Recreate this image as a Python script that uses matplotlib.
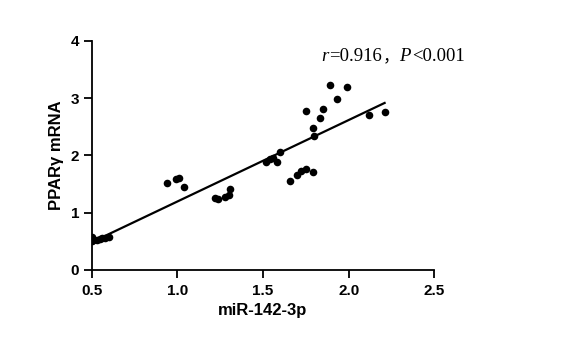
import numpy as np
import matplotlib
matplotlib.use("Agg")
import matplotlib.pyplot as plt
from matplotlib.offsetbox import TextArea, HPacker, AnnotationBbox

# data
mir_142_3p = [0.50, 0.50, 0.51, 0.53, 0.55, 0.56, 0.58, 0.60,
              0.94, 0.99, 1.01, 1.04,
              1.22, 1.24, 1.28, 1.30, 1.31,
              1.52, 1.54, 1.56, 1.58, 1.60,
              1.66, 1.70, 1.72, 1.75, 1.79,
              1.75, 1.79, 1.80, 1.83, 1.85, 1.89, 1.93, 1.99, 2.12, 2.21]
ppar_mrna = [0.58, 0.50, 0.53, 0.52, 0.54, 0.56, 0.55, 0.58,
             1.52, 1.59, 1.60, 1.44,
             1.25, 1.23, 1.28, 1.30, 1.41,
             1.89, 1.93, 1.96, 1.88, 2.05,
             1.55, 1.65, 1.72, 1.76, 1.71,
             2.77, 2.48, 2.34, 2.66, 2.81, 3.22, 2.98, 3.20, 2.71, 2.76]
x_ticks = [0.5, 1.0, 1.5, 2.0, 2.5]
y_ticks = [0, 1, 2, 3, 4]
x_tick_labels = ["0.5", "1.0", "1.5", "2.0", "2.5"]
y_tick_labels = ["0", "1", "2", "3", "4"]

x = np.array(mir_142_3p)
y = np.array(ppar_mrna)

fig = plt.figure(figsize=(5.68, 3.40), dpi=100)
ax = fig.add_axes([0.1614, 0.2059, 0.6032, 0.6744])

ax.scatter(x, y, s=30, color="black", zorder=3, linewidths=0)
slope, intercept = np.polyfit(x, y, 1)
xl = np.array([x.min(), x.max()])
ax.plot(xl, slope * xl + intercept, color="black", lw=1.6, zorder=2)

ax.set_xlim(0.5, 2.5)
ax.set_ylim(0, 4)
ax.set_xticks(x_ticks)
ax.set_xticklabels(x_tick_labels)
ax.set_yticks(y_ticks)
ax.set_yticklabels(y_tick_labels)

for s in ["top", "right"]:
    ax.spines[s].set_visible(False)
for s in ["left", "bottom"]:
    ax.spines[s].set_linewidth(1.3)
    ax.spines[s].set_color("black")

ax.tick_params(axis="both", direction="out", length=6, width=1.3, colors="black")
ax.tick_params(axis="x", pad=4)
ax.tick_params(axis="y", pad=3)
for lab in ax.get_xticklabels() + ax.get_yticklabels():
    lab.set_fontfamily("Liberation Sans")
    lab.set_fontweight("bold")
    lab.set_fontsize(11)

ax.set_xlabel("miR-142-3p", fontfamily="Liberation Sans", fontweight="bold",
              fontsize=12, labelpad=4)
ax.set_ylabel("PPARγ mRNA", fontfamily="Liberation Sans", fontweight="bold",
              fontsize=12, labelpad=5)

serif = dict(family=["Liberation Serif", "DejaVu Serif"], size=13.5, color="black")
serif_it = dict(serif, style="italic")
cjk = dict(family=["Noto Sans CJK SC", "DejaVu Sans"], size=12, color="black")
parts = [TextArea("r", textprops=serif_it),
         TextArea("=0.916", textprops=serif),
         TextArea("，", textprops=cjk),
         TextArea("P", textprops=serif_it),
         TextArea("<0.001", textprops=serif)]
pack = HPacker(children=parts, align="baseline", pad=0, sep=0.5)
ab = AnnotationBbox(pack, (0.669, 0.929), xycoords="axes fraction",
                    box_alignment=(0, 0.5), frameon=False, pad=0,
                    annotation_clip=False)
ax.add_artist(ab)

fig.savefig("out.png", dpi=100)
